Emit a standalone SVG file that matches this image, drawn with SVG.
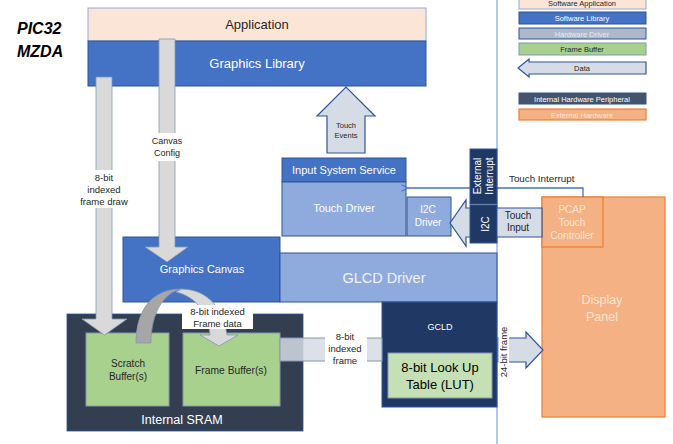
<svg xmlns="http://www.w3.org/2000/svg" width="673" height="444" viewBox="0 0 673 444">
<defs>
<style>
text{font-family:"Liberation Sans",Arial,sans-serif;text-anchor:middle}
.w{fill:#ffffff}
.d{fill:#262626}
.lib{fill:#4472C4;stroke:#2F5597;stroke-width:1}
.drv{fill:#8FAADC;stroke:#2F5597;stroke-width:1}
.navy{fill:#1F3864;stroke:#2F5597;stroke-width:1}
.green{fill:#A9D18E;stroke:#8497B0;stroke-width:1}
.orange{fill:#F4B183;stroke:#ED7D31;stroke-width:1.2}
.data{fill:#D6DCE5;stroke:#2F5597;stroke-width:1.2}
.gray{fill:#D9D9D9;stroke:#8497B0;stroke-width:0.8}
.lg{font-size:7.5px}
</style>
<marker id="chev" viewBox="0 0 10 10" refX="1" refY="5" markerWidth="8" markerHeight="8" orient="auto-start-reverse" markerUnits="userSpaceOnUse">
<path d="M9,1 L1,5 L9,9" fill="none" stroke="#4472C4" stroke-width="1.3"/>
</marker>
</defs>
<rect width="673" height="444" fill="#ffffff"/>

<g id="divider">
<line x1="497" y1="0" x2="497" y2="444" stroke="#8EA9DB" stroke-width="1.3"/>
</g>

<g id="title">
<text x="17" y="34" style="font-size:16px;font-weight:bold;font-style:italic;text-anchor:start" fill="#000">PIC32</text>
<text x="17" y="57" style="font-size:16px;font-weight:bold;font-style:italic;text-anchor:start" fill="#000">MZDA</text>
</g>

<g id="legend">
<rect x="519" y="-3" width="127" height="12" fill="#FBE5D6" stroke="#8FAADC" stroke-width="1"/>
<text x="582" y="6" class="lg d">Software Application</text>
<rect x="519" y="12" width="127" height="12" class="lib"/>
<text x="582" y="21" class="lg w">Software Library</text>
<rect x="519" y="28" width="127" height="11" fill="#ADB9CA" stroke="#2F5597" stroke-width="1"/>
<text x="582" y="36.5" class="lg" fill="#E7EAF0">Hardware Driver</text>
<rect x="519" y="43" width="127" height="12" class="green"/>
<text x="582" y="52" class="lg d">Frame Buffer</text>
<path d="M646,62 H529 V59 L518,68 L529,77 V74 H646 Z" class="data"/>
<text x="582" y="71" class="lg d">Data</text>
<rect x="519" y="93" width="127" height="11" fill="#44546A" stroke="#2F5597" stroke-width="1"/>
<text x="582" y="101.5" class="lg w">Internal Hardware Peripheral</text>
<rect x="519" y="109" width="127" height="11" class="orange"/>
<text x="582" y="117.5" class="lg" fill="#FBE5D6">External Hardware</text>
</g>

<g id="application">
<rect x="88" y="8" width="338" height="33" fill="#FBE5D6" stroke="#8FAADC" stroke-width="1"/>
<text x="257" y="29" class="d" style="font-size:13px">Application</text>
</g>

<g id="graphics-library">
<rect x="88" y="41" width="338" height="45" class="lib"/>
<text x="257" y="68" class="w" style="font-size:13px">Graphics Library</text>
</g>

<g id="graphics-canvas">
<rect x="123" y="237" width="157" height="65" class="lib"/>
<text x="202" y="273" class="w" style="font-size:11px">Graphics Canvas</text>
</g>

<g id="glcd-driver">
<rect x="280" y="253" width="217" height="49" class="drv"/>
<text x="384" y="283" fill="#F2F2F2" style="font-size:14.5px">GLCD Driver</text>
</g>

<g id="input-system-service">
<rect x="282" y="158" width="124" height="24" class="lib"/>
<text x="344" y="174" class="w" style="font-size:11px">Input System Service</text>
</g>

<g id="touch-driver">
<rect x="282" y="182" width="124" height="54" class="drv"/>
<text x="344" y="212" class="w" style="font-size:11px">Touch Driver</text>
</g>

<g id="i2c-driver">
<rect x="407" y="197" width="44" height="39" class="drv"/>
<text x="428" y="213" class="w" style="font-size:10px">I2C</text>
<text x="428" y="226" class="w" style="font-size:10px">Driver</text>
</g>

<g id="internal-sram">
<rect x="67" y="314" width="236" height="117" fill="#333F50" stroke="#2F5597" stroke-width="0.8"/>
<text x="182" y="424" class="w" style="font-size:12.5px">Internal SRAM</text>
</g>

<g id="scratch-buffer">
<rect x="86" y="333" width="83" height="73" class="green"/>
<text x="128" y="367" class="d" style="font-size:10px">Scratch</text>
<text x="128" y="380" class="d" style="font-size:10px">Buffer(s)</text>
</g>

<g id="frame-buffer">
<rect x="183" y="333" width="97" height="73" class="green"/>
<text x="231" y="374" class="d" style="font-size:10.3px">Frame Buffer(s)</text>
</g>

<g id="gcld">
<rect x="382" y="302" width="115" height="105" class="navy"/>
<text x="440" y="330" class="w" style="font-size:9px">GCLD</text>
</g>

<g id="lut">
<rect x="388" y="353" width="104" height="45" fill="#C5E0B4" stroke="#8497B0" stroke-width="1"/>
<text x="440" y="372" fill="#000" style="font-size:13px">8-bit Look Up</text>
<text x="440" y="389" fill="#000" style="font-size:13px">Table (LUT)</text>
</g>

<g id="display-panel">
<rect x="542" y="197" width="123" height="220" class="orange"/>
<text x="602" y="304" fill="#FBE5D6" style="font-size:12.5px">Display</text>
<text x="602" y="321" fill="#FBE5D6" style="font-size:12.5px">Panel</text>
</g>

<g id="pcap-touch-controller">
<rect x="542" y="197" width="61" height="50" class="orange"/>
<text x="572" y="213" fill="#FBE5D6" style="font-size:10px">PCAP</text>
<text x="572" y="226" fill="#FBE5D6" style="font-size:10px">Touch</text>
<text x="572" y="239" fill="#FBE5D6" style="font-size:10px">Controller</text>
</g>

<g id="connectors">
<!-- 8-bit indexed frame draw -->
<path d="M96,77 H112 V319 H127 L104.5,335 L82,319 H96 Z" class="gray"/>
<rect x="78" y="170" width="50" height="38" fill="#ffffff"/>
<text x="104" y="181" class="d" style="font-size:9.5px">8-bit</text>
<text x="104" y="193" class="d" style="font-size:9.5px">indexed</text>
<text x="104" y="205" class="d" style="font-size:9.5px">frame draw</text>

<!-- Canvas Config -->
<path d="M159,39 H175 V247 H188 L167,262 L145,247 H159 Z" class="gray"/>
<rect x="150" y="133" width="34" height="28" fill="#ffffff"/>
<text x="167" y="144" class="d" style="font-size:9px">Canvas</text>
<text x="167" y="156" class="d" style="font-size:9px">Config</text>

<!-- Scratch to Frame buffer curved arrow -->
<path d="M181,289 C200,289 222,300 227,335 H238 L219,346 L200,335 H210 C208,312 196,297 176,292 Z" fill="#D9D9D9" stroke="#8497B0" stroke-width="0.8"/>
<path d="M136,343 C136,310 152,289 181,289 C164,293 151,312 151,343 Z" fill="#A6A6A6" stroke="#8497B0" stroke-width="0.8"/>
<rect x="182" y="305" width="71" height="24" fill="#ffffff"/>
<text x="217.5" y="315" class="d" style="font-size:9.5px">8-bit indexed</text>
<text x="217.5" y="327" class="d" style="font-size:9.5px">Frame data</text>

<!-- 8-bit indexed frame to GCLD -->
<rect x="280" y="338" width="102" height="23" fill="#D6DCE5" fill-opacity="0.85" stroke="#8497B0" stroke-width="1"/>
<rect x="325" y="330" width="42" height="36" fill="#ffffff"/>
<text x="345" y="340" class="d" style="font-size:9.5px">8-bit</text>
<text x="345" y="352" class="d" style="font-size:9.5px">indexed</text>
<text x="345" y="364" class="d" style="font-size:9.5px">frame</text>

<!-- 24-bit frame to display -->
<path d="M498,338 H526 V332 L543,350 L526,368 V362 H498 Z" class="data"/>
<rect x="498.5" y="322" width="10.5" height="60" fill="#ffffff"/>
<text transform="translate(507,352) rotate(-90)" class="d" style="font-size:9.5px">24-bit frame</text>

<!-- Touch Events up arrow -->
<path d="M327,153 V116 H317 L346,87 L375,116 H365 V153 Z" class="data"/>
<text x="346" y="128" class="d" style="font-size:7.5px">Touch</text>
<text x="346" y="138" class="d" style="font-size:7.5px">Events</text>

<!-- Touch Input to I2C Driver -->
<path d="M542,208 H466 V200 L450,223 L466,246 V237 H542 Z" class="data"/>
<text x="518" y="219" class="d" style="font-size:10px">Touch</text>
<text x="518" y="231" class="d" style="font-size:10px">Input</text>

<!-- Touch Interrupt -->
<polyline points="583,197 583,188 498,188" fill="none" stroke="#4472C4" stroke-width="1.3" marker-end="url(#chev)"/>
<text x="509" y="182" class="d" style="font-size:9.8px;text-anchor:start">Touch Interrupt</text>
<line x1="470" y1="188" x2="408" y2="188" stroke="#4472C4" stroke-width="1.3" marker-end="url(#chev)"/>
</g>

<g id="external-interrupt">
<rect x="470" y="149" width="27" height="55" class="navy"/>
<text transform="translate(481,176) rotate(-90)" class="w" style="font-size:10px">External</text>
<text transform="translate(493,176) rotate(-90)" class="w" style="font-size:10px">Interrupt</text>
</g>

<g id="i2c">
<rect x="470" y="205" width="27" height="38" class="navy"/>
<text transform="translate(488.5,224) rotate(-90)" class="w" style="font-size:10px">I2C</text>
</g>
</svg>
